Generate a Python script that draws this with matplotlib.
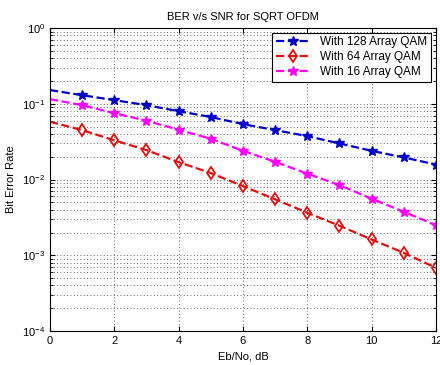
import numpy as np
import matplotlib
matplotlib.use('Agg')
import matplotlib.pyplot as plt
from matplotlib.ticker import LogLocator, NullFormatter

###############################################################################
###                           DATA
###############################################################################
snr_db = np.arange(0, 13)

ber_128qam = [0.152, 0.130, 0.112, 0.096, 0.080, 0.067, 0.054,
              0.045, 0.0375, 0.030, 0.024, 0.0196, 0.0158]
ber_64qam = [0.058, 0.045, 0.033, 0.0245, 0.017, 0.0122, 0.0082,
             0.0055, 0.00365, 0.00246, 0.00162, 0.00108, 0.000686]
ber_16qam = [0.1155, 0.096, 0.0755, 0.0598, 0.0455, 0.0346, 0.024,
             0.0172, 0.012, 0.00846, 0.0056, 0.00376, 0.0025]

labels = ['With 128 Array QAM', 'With 64 Array QAM', 'With 16 Array QAM']

###############################################################################
###                           PLOT
###############################################################################
plt.rcParams['font.family'] = ['Liberation Sans', 'DejaVu Sans']

fig = plt.figure(figsize=(4.4, 3.65), dpi=100)
ax = fig.add_axes([0.1136, 0.093, 0.877, 0.830])

ax.semilogy(snr_db, ber_128qam, '--', color='#0000c8', lw=1.6, marker='*',
            ms=7, markevery=range(1, 13), label=labels[0])
ax.semilogy(snr_db, ber_64qam, '--', color='#e01010', lw=1.6, marker='d',
            ms=6, mfc='none', mew=1.3, markevery=range(1, 13), label=labels[1])
ax.semilogy(snr_db, ber_16qam, '--', color='#ff00ff', lw=1.6, marker='*',
            ms=7, markevery=range(1, 13), label=labels[2])

ax.set_xlim(0, 12)
ax.set_ylim(1e-4, 1)
ax.set_xticks(range(0, 13, 2))
ax.yaxis.set_major_locator(LogLocator(base=10, numticks=10))
ax.yaxis.set_minor_locator(LogLocator(base=10, subs=np.arange(2, 10), numticks=10))
ax.yaxis.set_minor_formatter(NullFormatter())

grid_style = dict(ls=(0, (1, 3)), color='#333333', lw=0.6)
ax.grid(True, which='major', **grid_style)
ax.grid(True, which='minor', axis='y', **grid_style)
ax.tick_params(which='both', direction='in', top=True, right=True, labelsize=8)

ax.set_title('BER v/s SNR for SQRT OFDM', fontsize=8)
ax.set_xlabel('Eb/No, dB', fontsize=8)
ax.set_ylabel('Bit Error Rate', fontsize=8)

leg = ax.legend(loc='upper right', fontsize=8.5, fancybox=False, framealpha=1,
                edgecolor='black', borderaxespad=0.4, handlelength=3,
                labelspacing=0.25, borderpad=0.3)
leg.get_frame().set_linewidth(0.8)

fig.savefig('out.png', dpi=100)
